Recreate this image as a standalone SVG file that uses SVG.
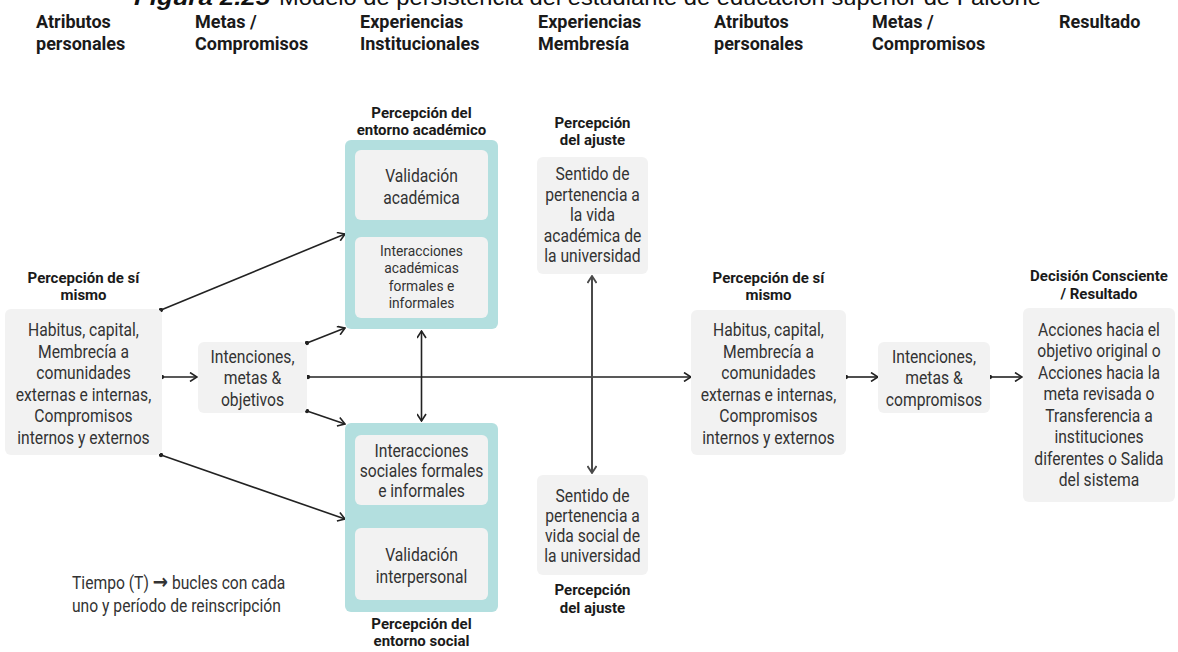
<svg xmlns="http://www.w3.org/2000/svg" width="1178" height="652" viewBox="0 0 1178 652">
  <defs>
    <style>
      .bg { fill: #ffffff; }
      .box { fill: #f2f2f2; }
      .frame { fill: #b3dfdf; }
      .body { font-family: Roboto, "Liberation Sans", sans-serif; font-size: 18px; fill: #333333; text-anchor: middle;
              transform-box: fill-box; transform-origin: center; transform: scaleX(0.87); }
      .small { font-family: Roboto, "Liberation Sans", sans-serif; font-size: 15px; fill: #333333; text-anchor: middle;
               transform-box: fill-box; transform-origin: center; transform: scaleX(0.92); }
      .note { font-family: Roboto, "Liberation Sans", sans-serif; font-size: 18px; fill: #333333;
              transform-box: fill-box; transform-origin: left center; transform: scaleX(0.87); }
      .arrowglyph { font-family: "DejaVu Sans", sans-serif; font-size: 21px; font-weight: bold; }
      .label { font-family: Roboto, "Liberation Sans", sans-serif; font-size: 15px; font-weight: bold; fill: #1a1a1a; text-anchor: middle; }
      .head { font-family: Roboto, "Liberation Sans", sans-serif; font-size: 18px; font-weight: bold; fill: #1a1a1a; }
      .title { font-family: "Liberation Sans", sans-serif; font-size: 22px; fill: #111111; }
      .link { fill: none; stroke: #222222; stroke-width: 1.6; }
      .link2 { fill: none; stroke: #4a4a4a; stroke-width: 2; }
    </style>
    <marker id="head" viewBox="0 0 10 10" refX="9" refY="5" markerWidth="10" markerHeight="10" markerUnits="userSpaceOnUse" orient="auto-start-reverse">
      <path d="M2,0.5 L9,5 L2,9.5" fill="none" stroke="#222222" stroke-width="1.6"/>
    </marker>
    <marker id="head2" viewBox="0 0 10 10" refX="9" refY="5" markerWidth="10" markerHeight="10" markerUnits="userSpaceOnUse" orient="auto-start-reverse">
      <path d="M2,0.5 L9,5 L2,9.5" fill="none" stroke="#4a4a4a" stroke-width="1.8"/>
    </marker>
    <marker id="dot" viewBox="0 0 6 6" refX="3" refY="3" markerWidth="5" markerHeight="5" markerUnits="userSpaceOnUse">
      <circle cx="3" cy="3" r="2.6" fill="#222222"/>
    </marker>
  </defs>

  <rect class="bg" x="0" y="0" width="1178" height="652"/>

  <!-- caption, partly cut by the top edge -->
  <g id="caption">
    <text class="title" x="134" y="4.5" font-weight="bold" font-style="italic" textLength="136" lengthAdjust="spacingAndGlyphs">Figura 2.25</text>
    <text class="title" x="279" y="4.5" textLength="762" lengthAdjust="spacingAndGlyphs">Modelo de persistencia del estudiante de educación superior de Falcone</text>
  </g>

  <!-- column headings -->
  <g id="headings">
    <text class="head" x="36" y="28">Atributos</text>
    <text class="head" x="36" y="50">personales</text>
    <text class="head" x="195" y="28">Metas /</text>
    <text class="head" x="195" y="50">Compromisos</text>
    <text class="head" x="360" y="28">Experiencias</text>
    <text class="head" x="360" y="50">Institucionales</text>
    <text class="head" x="538" y="28">Experiencias</text>
    <text class="head" x="538" y="50">Membresía</text>
    <text class="head" x="714" y="28">Atributos</text>
    <text class="head" x="714" y="50">personales</text>
    <text class="head" x="872" y="28">Metas /</text>
    <text class="head" x="872" y="50">Compromisos</text>
    <text class="head" x="1059" y="28">Resultado</text>
  </g>

  <!-- connectors -->
  <g id="connectors">
    <line class="link" x1="162" y1="377" x2="197" y2="377" marker-start="url(#dot)" marker-end="url(#head)"/>
    <line class="link" x1="161" y1="310" x2="345" y2="234" marker-start="url(#dot)" marker-end="url(#head)"/>
    <line class="link" x1="307" y1="343" x2="345" y2="328" marker-start="url(#dot)" marker-end="url(#head)"/>
    <line class="link" x1="307" y1="411" x2="345" y2="424" marker-start="url(#dot)" marker-end="url(#head)"/>
    <line class="link" x1="161" y1="455" x2="345" y2="519" marker-start="url(#dot)" marker-end="url(#head)"/>
    <line class="link" x1="308" y1="377" x2="691" y2="377" marker-start="url(#dot)" marker-end="url(#head)"/>
    <line class="link" x1="846" y1="377" x2="878" y2="377" marker-start="url(#dot)" marker-end="url(#head)"/>
    <line class="link" x1="990" y1="377" x2="1022" y2="377" marker-start="url(#dot)" marker-end="url(#head)"/>
    <line class="link" x1="421.5" y1="221" x2="421.5" y2="236" marker-start="url(#head)" marker-end="url(#head)"/>
    <line class="link" x1="421.5" y1="331" x2="421.5" y2="421" marker-start="url(#head)" marker-end="url(#head)"/>
    <line class="link" x1="421.5" y1="506" x2="421.5" y2="527" marker-start="url(#head)" marker-end="url(#head)"/>
    <line class="link2" x1="592" y1="276" x2="592" y2="473" marker-start="url(#head2)" marker-end="url(#head2)"/>
  </g>

  <!-- self-perception, start -->
  <g id="self-start">
    <text class="label" x="83.5" y="283">Percepción de sí</text>
    <text class="label" x="83.5" y="300">mismo</text>
    <rect class="box" x="5" y="309" width="157" height="146" rx="6"/>
    <text class="body" x="83.5" y="336.5">Habitus, capital,</text>
    <text class="body" x="83.5" y="358">Membrecía a</text>
    <text class="body" x="83.5" y="379.5">comunidades</text>
    <text class="body" x="83.5" y="401">externas e internas,</text>
    <text class="body" x="83.5" y="422.5">Compromisos</text>
    <text class="body" x="83.5" y="444">internos y externos</text>
  </g>

  <!-- intentions, start -->
  <g id="goals-start">
    <rect class="box" x="198" y="342" width="109" height="71" rx="6"/>
    <text class="body" x="252.5" y="363">Intenciones,</text>
    <text class="body" x="252.5" y="384.5">metas &amp;</text>
    <text class="body" x="252.5" y="406">objetivos</text>
  </g>

  <!-- academic environment -->
  <g id="academic">
    <text class="label" x="421.5" y="118">Percepción del</text>
    <text class="label" x="421.5" y="135">entorno académico</text>
    <rect class="frame" x="345" y="140" width="153" height="189" rx="6"/>
    <rect class="box" x="355" y="150" width="133" height="70" rx="6"/>
    <text class="body" x="421.5" y="182.5">Validación</text>
    <text class="body" x="421.5" y="204.5">académica</text>
    <rect class="box" x="355" y="237" width="133" height="81" rx="6"/>
    <text class="small" x="421.5" y="256">Interacciones</text>
    <text class="small" x="421.5" y="273.5">académicas</text>
    <text class="small" x="421.5" y="291">formales e</text>
    <text class="small" x="421.5" y="308.5">informales</text>
  </g>

  <!-- social environment -->
  <g id="social">
    <rect class="frame" x="345" y="423" width="153" height="189" rx="6"/>
    <rect class="box" x="355" y="435" width="133" height="70" rx="6"/>
    <text class="body" x="421.5" y="457.5">Interacciones</text>
    <text class="body" x="421.5" y="477.5">sociales formales</text>
    <text class="body" x="421.5" y="497.5">e informales</text>
    <rect class="box" x="355" y="528" width="133" height="72" rx="6"/>
    <text class="body" x="421.5" y="561.5">Validación</text>
    <text class="body" x="421.5" y="583.5">interpersonal</text>
    <text class="label" x="421.5" y="629">Percepción del</text>
    <text class="label" x="421.5" y="646">entorno social</text>
  </g>

  <!-- academic belonging -->
  <g id="belonging-academic">
    <text class="label" x="592.5" y="128">Percepción</text>
    <text class="label" x="592.5" y="145">del ajuste</text>
    <rect class="box" x="537" y="157" width="111" height="117" rx="6"/>
    <text class="body" x="592.5" y="180.5">Sentido de</text>
    <text class="body" x="592.5" y="201">pertenencia a</text>
    <text class="body" x="592.5" y="221.5">la vida</text>
    <text class="body" x="592.5" y="242">académica de</text>
    <text class="body" x="592.5" y="262.5">la universidad</text>
  </g>

  <!-- social belonging -->
  <g id="belonging-social">
    <rect class="box" x="537" y="475" width="111" height="100" rx="6"/>
    <text class="body" x="592.5" y="502.5">Sentido de</text>
    <text class="body" x="592.5" y="522.5">pertenencia a</text>
    <text class="body" x="592.5" y="542.5">vida social de</text>
    <text class="body" x="592.5" y="562.5">la universidad</text>
    <text class="label" x="592.5" y="595">Percepción</text>
    <text class="label" x="592.5" y="613">del ajuste</text>
  </g>

  <!-- self-perception, later -->
  <g id="self-end">
    <text class="label" x="768.5" y="283">Percepción de sí</text>
    <text class="label" x="768.5" y="300">mismo</text>
    <rect class="box" x="691" y="310" width="155" height="145" rx="6"/>
    <text class="body" x="768.5" y="336.5">Habitus, capital,</text>
    <text class="body" x="768.5" y="358">Membrecía a</text>
    <text class="body" x="768.5" y="379.5">comunidades</text>
    <text class="body" x="768.5" y="401">externas e internas,</text>
    <text class="body" x="768.5" y="422.5">Compromisos</text>
    <text class="body" x="768.5" y="444">internos y externos</text>
  </g>

  <!-- intentions, later -->
  <g id="goals-end">
    <rect class="box" x="878" y="342" width="112" height="71" rx="6"/>
    <text class="body" x="934" y="363">Intenciones,</text>
    <text class="body" x="934" y="384.5">metas &amp;</text>
    <text class="body" x="934" y="406">compromisos</text>
  </g>

  <!-- outcome -->
  <g id="outcome">
    <text class="label" x="1099" y="281">Decisión Consciente</text>
    <text class="label" x="1099" y="299">/ Resultado</text>
    <rect class="box" x="1023" y="308" width="152" height="194" rx="6"/>
    <text class="body" x="1099" y="336">Acciones hacia el</text>
    <text class="body" x="1099" y="357.5">objetivo original o</text>
    <text class="body" x="1099" y="379">Acciones hacia la</text>
    <text class="body" x="1099" y="400.5">meta revisada o</text>
    <text class="body" x="1099" y="422">Transferencia a</text>
    <text class="body" x="1099" y="443.5">instituciones</text>
    <text class="body" x="1099" y="465">diferentes o Salida</text>
    <text class="body" x="1099" y="486.5">del sistema</text>
  </g>

  <!-- time note -->
  <g id="time-note">
    <text class="note" x="72" y="589">Tiempo (T) <tspan class="arrowglyph">→</tspan> bucles con cada</text>
    <text class="note" x="72" y="612">uno y período de reinscripción</text>
  </g>
</svg>
